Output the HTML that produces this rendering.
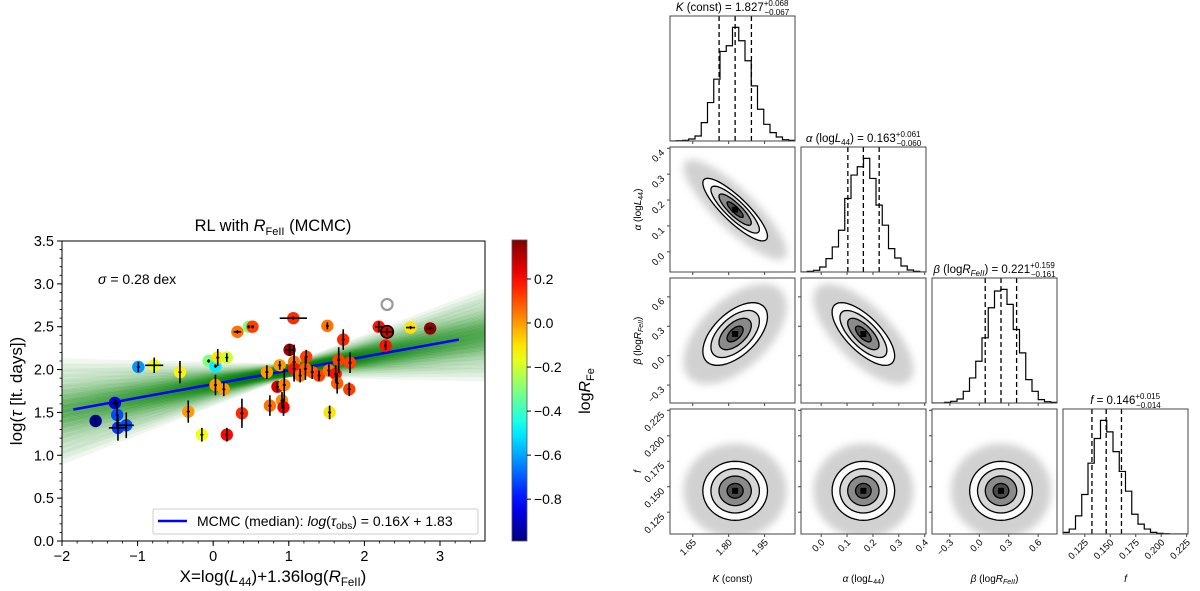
<!DOCTYPE html>
<html><head><meta charset="utf-8"><style>
html,body{margin:0;padding:0;background:#fff;}
svg{display:block;font-family:"Liberation Sans","DejaVu Sans",sans-serif;}
</style></head><body>
<svg id="fig" width="1200" height="591" viewBox="0 0 1200 591" xmlns="http://www.w3.org/2000/svg">
<g id="left"></g>
<g id="cbar"></g>
<g id="corner"></g>
</svg>
<script>
// ---------- Left chart data ----------
const ptX = [-1.555,-1.30,-1.27,-1.26,-1.15,-0.99,-0.78,-0.44,-0.33,-0.15,-0.06,0.03,0.06,0.18,0.03,0.14,0.18,0.32,0.47,0.52,0.38,0.71,0.75,0.85,0.88,0.91,0.93,0.94,1.06,1.01,1.07,1.07,1.15,1.23,1.22,1.31,1.40,1.51,1.53,1.54,1.62,1.64,1.66,1.72,1.81,1.80,2.19,2.30,2.28,2.61,2.87];
const ptY = [1.40,1.61,1.47,1.32,1.35,2.03,2.05,1.97,1.51,1.24,2.10,2.04,2.14,2.14,1.82,1.77,1.24,2.44,2.50,2.50,1.49,1.97,1.58,1.80,2.05,1.64,1.56,1.82,2.60,2.23,2.09,2.01,1.93,2.15,2.01,1.97,1.93,2.51,1.99,1.50,1.95,1.84,2.11,2.35,2.08,1.77,2.50,2.44,2.28,2.49,2.48];
const ptR = [-0.95,-0.85,-0.72,-0.75,-0.72,-0.62,-0.16,-0.12,0.0,-0.15,-0.3,-0.5,-0.1,-0.2,0.0,0.0,0.2,0.05,-0.3,0.12,0.15,0.0,0.05,0.25,0.0,0.02,0.22,0.03,0.15,0.33,0.05,0.18,0.05,0.12,0.08,0.08,0.12,0.05,0.05,-0.1,0.18,0.08,0.12,0.15,0.12,0.12,0.18,0.25,0.18,-0.1,0.35];
const ptXerr = [0.02,0.05,0.02,0.12,0.10,0.02,0.12,0.02,0.02,0.02,0.02,0.02,0.02,0.02,0.02,0.02,0.02,0.05,0.02,0.02,0.02,0.02,0.02,0.02,0.02,0.02,0.02,0.02,0.18,0.06,0.02,0.02,0.02,0.02,0.02,0.02,0.02,0.02,0.02,0.02,0.02,0.02,0.02,0.02,0.02,0.02,0.05,0.08,0.02,0.06,0.05];
const ptYerr = [0.05,0.04,0.16,0.15,0.15,0.06,0.09,0.13,0.13,0.08,0.02,0.02,0.10,0.05,0.12,0.08,0.08,0.02,0.02,0.02,0.17,0.08,0.12,0.06,0.05,0.10,0.10,0.19,0.02,0.07,0.20,0.15,0.08,0.08,0.13,0.08,0.06,0.04,0.07,0.08,0.10,0.12,0.15,0.12,0.12,0.08,0.06,0.04,0.05,0.02,0.02];
const outlierX = [2.30], outlierY = [2.76];
const xTicks = [-2,-1,0,1,2,3];
const yTicks = [0.0,0.5,1.0,1.5,2.0,2.5,3.0,3.5];
const fitSlope = [0.16], fitIntercept = [1.83];
const slopeSpread = [0.06], interceptSpread = [0.035];
const cbTicks = [0.2,0.0,-0.2,-0.4,-0.6,-0.8];
const cbRange = [-0.99,0.377];

// ---------- Corner data ----------
const parMean = [1.827,0.163,0.221,0.146];
const parLo = [1.760,0.103,0.060,0.132];
const parHi = [1.895,0.224,0.380,0.161];
const parSd = [0.0675,0.0605,0.16,0.0145];
const corrKA = [-0.85], corrKB = [0.55], corrAB = [-0.7];
const histK = [0,1,2,6,15,55,115,185,268,285,340,300,240,165,95,50,25,12,4,2];
const histA = [0,2,5,15,40,75,125,220,290,315,340,280,200,140,70,42,18,6,2,0];
const histB = [0,0,2,5,12,35,75,125,195,285,335,340,295,220,150,70,35,10,4,2];
const histF = [5,15,55,120,215,290,345,310,250,190,130,60,30,15,5,2,1,0,0,0];
const ticksK = [1.65,1.80,1.95], ticksA=[0.0,0.1,0.2,0.3,0.4], ticksB=[-0.3,0.0,0.3,0.6], ticksF=[0.125,0.150,0.175,0.200,0.225];
const tickLblK = ["1.65","1.80","1.95"], tickLblA=["0.0","0.1","0.2","0.3","0.4"], tickLblB=["\u22120.3","0.0","0.3","0.6"], tickLblF=["0.125","0.150","0.175","0.200","0.225"];

const NS="http://www.w3.org/2000/svg";
function mk(tag,attrs,parent){const e=document.createElementNS(NS,tag);for(const k in attrs)e.setAttribute(k,attrs[k]);if(parent)parent.appendChild(e);return e;}

function jet(v){
  let t=(v-cbRange[0])/(cbRange[1]-cbRange[0]);t=Math.max(0,Math.min(1,t));
  const f=(x)=>Math.max(0,Math.min(1,x));
  const r=f(1.5-Math.abs(4*t-3)), g=f(1.5-Math.abs(4*t-2)), b=f(1.5-Math.abs(4*t-1));
  return `rgb(${Math.round(r*255)},${Math.round(g*255)},${Math.round(b*255)})`;
}

// ---------- Left chart ----------
const L=document.getElementById('left');
const AX={l:62,r:485,t:241,b:541};
const xpx=X=>AX.l+(X+2)*75.6;
const ypx=Y=>AX.b-Y*85.714;
const clipP=mk('clipPath',{id:'lclip'},L);mk('rect',{x:AX.l,y:AX.t,width:AX.r-AX.l,height:AX.b-AX.t},clipP);
const band=mk('g',{'clip-path':'url(#lclip)'},L);


for(let i=-9;i<=9;i++){for(let j=-4;j<=4;j++){
  const s=fitSlope[0]+slopeSpread[0]*i/3, c=fitIntercept[0]+interceptSpread[0]*j/2;
  const piv=1.0, yA=c+fitSlope[0]*piv+s*(-2.1-piv), yB=c+fitSlope[0]*piv+s*(3.7-piv);
  const op=0.45*Math.exp(-(i*i/9+j*j/4)/2)+0.06;
  mk('line',{x1:xpx(-2.1),y1:ypx(yA),x2:xpx(3.7),y2:ypx(yB),stroke:'#008000','stroke-opacity':op.toFixed(3),'stroke-width':1.5},band);
}}
const fl=mk('line',{x1:xpx(-1.85),y1:ypx(fitIntercept[0]+fitSlope[0]*-1.85),x2:xpx(3.25),y2:ypx(fitIntercept[0]+fitSlope[0]*3.25),stroke:'#0000ff','stroke-width':2.5},L);


const pts=mk('g',{},L);


for(let i=0;i<ptX.length;i++){
  const cx=xpx(ptX[i]),cy=ypx(ptY[i]);
  const c=mk('circle',{cx,cy,r:6.2,fill:jet(ptR[i])},pts);
  
  
  if(i===47)mk('circle',{cx,cy,r:6.2,fill:'none',stroke:'#000','stroke-width':1.6},pts);
}
for(let i=0;i<ptX.length;i++){
  const cx=xpx(ptX[i]),cy=ypx(ptY[i]);
  const ex=mk('line',{x1:xpx(ptX[i]-ptXerr[i]),y1:cy,x2:xpx(ptX[i]+ptXerr[i]),y2:cy,stroke:'#000','stroke-width':1.6},pts);
  
  
  const ey=mk('line',{x1:cx,y1:ypx(ptY[i]-ptYerr[i]),x2:cx,y2:ypx(ptY[i]+ptYerr[i]),stroke:'#000','stroke-width':1.6},pts);
  
  
}
for(let i=0;i<outlierX.length;i++){
  const o=mk('circle',{cx:xpx(outlierX[i]),cy:ypx(outlierY[i]),r:5.5,fill:'none',stroke:'#999','stroke-width':2.2},L);
  
  
}
mk('rect',{x:AX.l,y:AX.t,width:AX.r-AX.l,height:AX.b-AX.t,fill:'none',stroke:'#000','stroke-width':1},L);
for(let v=-2;v<=3.6;v+=0.2){const x=xpx(v);mk('line',{x1:x,y1:AX.b,x2:x,y2:AX.b+2.5,stroke:'#000','stroke-width':0.8},L);}
for(let v=0;v<=3.5001;v+=0.1){const y=ypx(v);mk('line',{x1:AX.l-2.5,y1:y,x2:AX.l,y2:y,stroke:'#000','stroke-width':0.8},L);}
xTicks.forEach(v=>{const x=xpx(v);mk('line',{x1:x,y1:AX.b,x2:x,y2:AX.b+5,stroke:'#000','stroke-width':1},L);
  const t=mk('text',{x:x,y:AX.b+20,'font-size':14.5,'text-anchor':'middle'},L);t.textContent=(v<0?'\u2212'+(-v):v);
  });
yTicks.forEach(v=>{const y=ypx(v);mk('line',{x1:AX.l-5,y1:y,x2:AX.l,y2:y,stroke:'#000','stroke-width':1},L);
  const t=mk('text',{x:AX.l-8,y:y+5,'font-size':14.5,'text-anchor':'end'},L);t.textContent=v.toFixed(1);
  });
</script>
<script>
(function(){
const L=document.getElementById('left');
L.insertAdjacentHTML('beforeend',`
<text x="273" y="231" font-size="16.5" text-anchor="middle">RL with <tspan font-style="italic">R</tspan><tspan font-size="11" dy="4">FeII</tspan><tspan dy="-4"> (MCMC)</tspan></text>
<text x="98" y="284" font-size="14"><tspan font-style="italic">σ</tspan> = 0.28 dex</text>
<text transform="translate(22,391) rotate(-90)" font-size="17" text-anchor="middle">log(<tspan font-style="italic">τ</tspan> [lt. days])</text>
<text x="273" y="582" font-size="17" text-anchor="middle">X=log(<tspan font-style="italic">L</tspan><tspan font-size="11.5" dy="4">44</tspan><tspan dy="-4">)+1.36log(</tspan><tspan font-style="italic">R</tspan><tspan font-size="11.5" dy="4">FeII</tspan><tspan dy="-4">)</tspan></text>
<g>
<rect x="153" y="509" width="325" height="25" rx="2" fill="#fff" fill-opacity="0.85" stroke="#ccc"/>
<line x1="158" y1="521" x2="187" y2="521" stroke="#0000ff" stroke-width="2.5"/>
<text x="197" y="526" font-size="14">MCMC (median): <tspan font-style="italic">log</tspan>(<tspan font-style="italic">τ</tspan><tspan font-size="10" dy="3">obs</tspan><tspan dy="-3">) = 0.16</tspan><tspan font-style="italic">X</tspan> + 1.83</text>
</g>`);
const C=document.getElementById('cbar');
const top=240,bot=541,x0=512,w=15;
const defs=mk('defs',{},C);const lg=mk('linearGradient',{id:'jetg',x1:0,y1:1,x2:0,y2:0},defs);
for(let k=0;k<=20;k++){const v=cbRange[0]+(cbRange[1]-cbRange[0])*k/20;mk('stop',{offset:k/20,'stop-color':jet(v)},lg);}
const cr=mk('rect',{x:x0,y:top,width:w,height:bot-top,fill:'url(#jetg)',stroke:'#555','stroke-width':0.8},C);

const cy=v=>bot-(v-cbRange[0])/(cbRange[1]-cbRange[0])*(bot-top);
cbTicks.forEach(v=>{const y=cy(v);mk('line',{x1:x0+w,y1:y,x2:x0+w+4,y2:y,stroke:'#000'},C);
 const t=mk('text',{x:x0+w+7,y:y+5,'font-size':14},C);t.textContent=(v<0?'\u2212'+(-v).toFixed(1):v.toFixed(1));
 });
C.insertAdjacentHTML('beforeend',`<text transform="translate(590,391) rotate(-90)" font-size="16" text-anchor="middle">log<tspan font-style="italic">R</tspan><tspan font-size="11" dy="4">Fe</tspan></text>`);

const G=document.getElementById('corner');
const colL=[670,801,932,1063], rowT=[16,147,278,409], S=125;
const rng=[[1.555,2.077],[-0.078,0.405],[-0.4825,0.792],[0.1036,0.2263]];
const hists=[histK,histA,histB,histF];
const ticks=[ticksK,ticksA,ticksB,ticksF], tlbl=[tickLblK,tickLblA,tickLblB,tickLblF];
const corr=(i,j)=>{const k=[Math.min(i,j),Math.max(i,j)].join('');return k==='01'?corrKA[0]:k==='02'?corrKB[0]:k==='12'?corrAB[0]:0;};
const px=(p,v,c)=>colL[c]+(v-rng[p][0])/(rng[p][1]-rng[p][0])*S;
const py=(p,v,r)=>rowT[r]+S-(v-rng[p][0])/(rng[p][1]-rng[p][0])*S;
const titles=[
 '<tspan font-style="italic">K</tspan> (const) = 1.827<tspan font-size="8" dy="-5">+0.068</tspan><tspan font-size="8" dx="-24" dy="9">−0.067</tspan>',
 '<tspan font-style="italic">α</tspan> (log<tspan font-style="italic">L</tspan><tspan font-size="8" dy="3">44</tspan><tspan dy="-3">) = 0.163</tspan><tspan font-size="8" dy="-5">+0.061</tspan><tspan font-size="8" dx="-24" dy="9">−0.060</tspan>',
 '<tspan font-style="italic">β</tspan> (log<tspan font-style="italic">R</tspan><tspan font-size="8" font-style="italic" dy="3">FeII</tspan><tspan dy="-3">) = 0.221</tspan><tspan font-size="8" dy="-5">+0.159</tspan><tspan font-size="8" dx="-24" dy="9">−0.161</tspan>',
 '<tspan font-style="italic">f</tspan> = 0.146<tspan font-size="8" dy="-5">+0.015</tspan><tspan font-size="8" dx="-24" dy="9">−0.014</tspan>'];
const xlabels=['<tspan font-style="italic">K</tspan> (const)','<tspan font-style="italic">α</tspan> (log<tspan font-style="italic">L</tspan><tspan font-size="7" dy="2">44</tspan><tspan dy="-2">)</tspan>','<tspan font-style="italic">β</tspan> (log<tspan font-style="italic">R</tspan><tspan font-size="7" font-style="italic" dy="2">FeII</tspan><tspan dy="-2">)</tspan>','<tspan font-style="italic">f</tspan>'];
mk('filter',{id:'blr'},mk('defs',{},G)).appendChild(mk('feGaussianBlur',{stdDeviation:4}));
for(let r=0;r<4;r++){for(let c=0;c<=r;c++){
  const pg=mk('g',{},G);
  
  
  const cp=mk('clipPath',{id:`cp${r}${c}`},pg);mk('rect',{x:colL[c],y:rowT[r],width:S,height:S},cp);
  const inner=mk('g',{'clip-path':`url(#cp${r}${c})`},pg);
  if(r===c){
    const h=hists[r],mx=Math.max(...h)*1.1,n=h.length;let d='';
    for(let k=0;k<n;k++){const xa=colL[c]+k*S/n,xb=colL[c]+(k+1)*S/n,y=rowT[r]+S-h[k]/mx*S;d+=(k===0?`M${xa},${y}`:`L${xa},${y}`)+`L${xb},${y}`;}
    const hp=mk('path',{d,fill:'none',stroke:'#000','stroke-width':1.2},inner);
    
    [parLo[r],parMean[r],parHi[r]].forEach(v=>{const x=px(r,v,c);mk('line',{x1:x,y1:rowT[r],x2:x,y2:rowT[r]+S,stroke:'#000','stroke-width':1.3,'stroke-dasharray':'5,3'},inner);});
    const t=mk('text',{x:colL[c]+S/2,y:rowT[r]-5,'font-size':11.5,'text-anchor':'middle'},pg);t.innerHTML=titles[r];
    
  } else {
    const mxp=px(c,parMean[c],c),myp=py(r,parMean[r],r);
    const sx=parSd[c]/(rng[c][1]-rng[c][0])*S, sy=parSd[r]/(rng[r][1]-rng[r][0])*S, rho=-corr(r,c);
    const ell=(rad)=>{let d='';for(let k=0;k<=48;k++){const t=k/48*2*Math.PI;const x=mxp+rad*sx*Math.cos(t),y=myp+rad*sy*(rho*Math.cos(t)+Math.sqrt(1-rho*rho)*Math.sin(t));d+=(k?'L':'M')+x.toFixed(1)+','+y.toFixed(1);}return d+'Z';};
    mk('path',{d:ell(3.2),fill:'#999','fill-opacity':0.45,filter:'url(#blr)'},inner);
    mk('path',{d:ell(2.0),fill:'#fbfbfb'},inner);
    mk('path',{d:ell(1.5),fill:'#d6d6d6'},inner);
    mk('path',{d:ell(1.0),fill:'#8a8a8a'},inner);
    mk('path',{d:ell(0.5),fill:'#4a4a4a'},inner);
    mk('rect',{x:mxp-3,y:myp-3,width:6,height:6,fill:'#000'},inner);
    [2.0,1.5,1.0,0.5].forEach(rad=>{const e=mk('path',{d:ell(rad),fill:'none',stroke:'#000','stroke-width':1.3},inner);
      });
  }
  mk('rect',{x:colL[c],y:rowT[r],width:S,height:S,fill:'none',stroke:'#444','stroke-width':1},pg);
  ticks[c].forEach((v,k)=>{const x=px(c,v,c);mk('line',{x1:x,y1:rowT[r]+S,x2:x,y2:rowT[r]+S+3,stroke:'#444'},pg);
    if(r===3){const t=mk('text',{transform:`translate(${x+4},${rowT[r]+S+9}) rotate(-45)`,'font-size':9.5,'text-anchor':'end'},pg);t.textContent=tlbl[c][k];
      }});
  if(r!==c){ticks[r].forEach((v,k)=>{const y=py(r,v,r);mk('line',{x1:colL[c]-3,y1:y,x2:colL[c],y2:y,stroke:'#444'},pg);
    if(c===0){const t=mk('text',{transform:`translate(${colL[c]-5},${y+5}) rotate(-45)`,'font-size':9.5,'text-anchor':'end'},pg);t.textContent=tlbl[r][k];
      }});}
}}
for(let c=0;c<4;c++){const t=mk('text',{x:colL[c]+S/2,y:582,'font-size':10,'text-anchor':'middle'},G);t.innerHTML=xlabels[c];
  }
for(let r=1;r<4;r++){const t=mk('text',{transform:`translate(641,${rowT[r]+S/2}) rotate(-90)`,'font-size':10,'text-anchor':'middle'},G);t.innerHTML=xlabels[r];
  }
})();
</script>
</body></html>
